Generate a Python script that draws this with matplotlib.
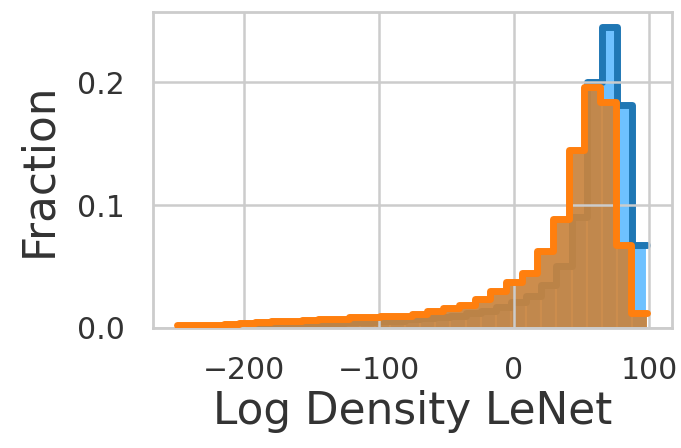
import numpy as np
import seaborn as sns
import matplotlib
matplotlib.use("Agg")
import matplotlib.pyplot as plt

sns.set_style("whitegrid")

# histogram fractions (30 bins each)
blue_range = (-237.3, 98.7)
blue_frac = [0.001, 0.001, 0.0012, 0.0015, 0.0018, 0.002, 0.0025, 0.003, 0.0035, 0.004,
             0.0045, 0.005, 0.0055, 0.006, 0.007, 0.008, 0.009, 0.010, 0.012, 0.014,
             0.017, 0.021, 0.026, 0.035, 0.050, 0.090, 0.200, 0.245, 0.181, 0.0675]

orange_range = (-249.5, 98.5)
orange_frac = [0.002, 0.002, 0.0025, 0.003, 0.004, 0.005, 0.0055, 0.006, 0.0065, 0.007,
               0.0075, 0.0085, 0.009, 0.0095, 0.010, 0.0115, 0.0135, 0.016, 0.019, 0.0235,
               0.030, 0.037, 0.0445, 0.063, 0.089, 0.145, 0.196, 0.184, 0.0675, 0.0125]

xticks = [-200, -100, 0, 100]
yticks = [0.0, 0.1, 0.2]

fig = plt.figure(figsize=(6.81, 4.48), dpi=100)
ax = fig.add_axes([0.2247, 0.268, 0.762, 0.705])

blue_frac = np.asarray(blue_frac)
blue_edges = np.linspace(blue_range[0], blue_range[1], len(blue_frac) + 1)
orange_frac = np.asarray(orange_frac)
orange_edges = np.linspace(orange_range[0], orange_range[1], len(orange_frac) + 1)

# blue: light fill bars + thick outline, both under the orange fill
ax.bar(blue_edges[:-1], blue_frac, width=np.diff(blue_edges), align="edge",
       color="#6ec1ff", edgecolor="white", linewidth=1.5, zorder=0.2)
ax.step(blue_edges, np.append(blue_frac, blue_frac[-1]), where="post", color="#1f77b4", lw=5,
        solid_joinstyle="round", solid_capstyle="round", zorder=0.25)

# orange: brownish fill + thick outline on top
ax.stairs(orange_frac, orange_edges, fill=True, color="#c8843f", alpha=0.93, lw=0, zorder=0.3)
ax.step(orange_edges, np.append(orange_frac, orange_frac[-1]), where="post", color="#ff7f0e", lw=5,
        solid_joinstyle="round", solid_capstyle="round", zorder=3)

ax.set_xlim(-267, 117)
ax.set_ylim(0, 0.257)
ax.set_xticks(xticks)
ax.set_yticks(yticks)
ax.set_yticklabels(["%.1f" % t for t in yticks])
ax.tick_params(labelsize=21.5, colors="#333333", pad=20, length=0)
ax.set_xlabel("Log Density LeNet", fontsize=31.5, color="#333333", labelpad=4)
ax.set_ylabel("Fraction", fontsize=31.5, color="#333333", labelpad=12)
ax.grid(True, color="#cccccc", lw=1.8)
ax.set_axisbelow(True)
for s in ax.spines.values():
    s.set_color("#cccccc")
    s.set_linewidth(2)

fig.savefig("out.png", dpi=100)
